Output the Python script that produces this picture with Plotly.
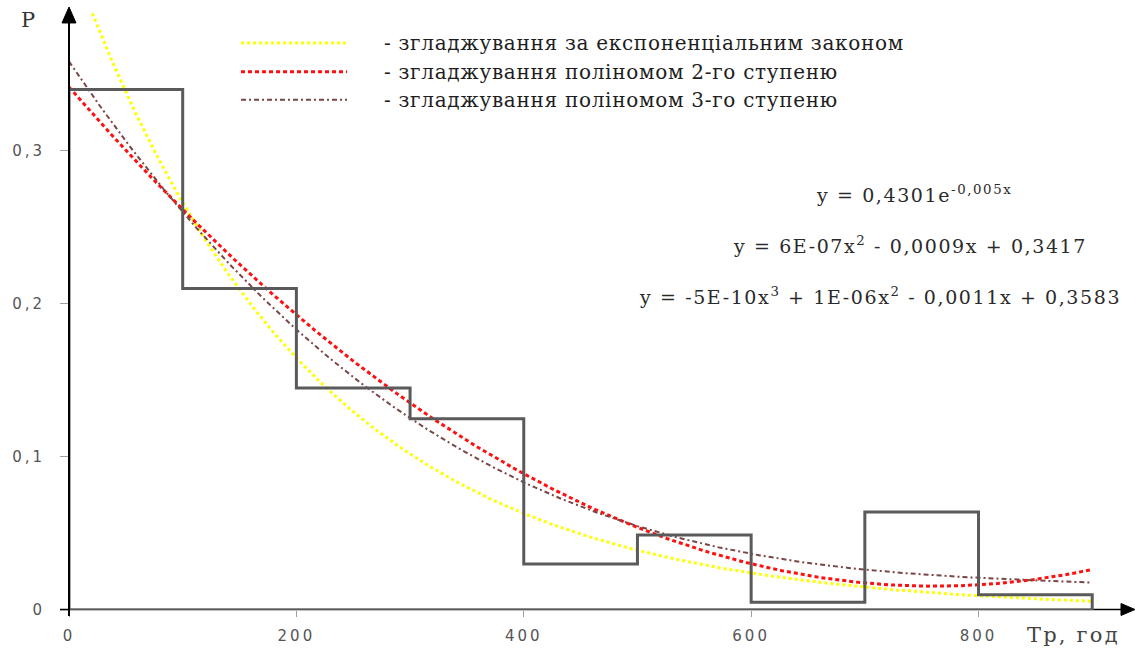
import numpy as np
import plotly.graph_objects as go

# Empirical distribution of time between failures (bin edges, hours) and bin probabilities
bin_edges = [0, 100, 200, 300, 400, 500, 600, 700, 800, 900]
probabilities = [0.34, 0.21, 0.145, 0.125, 0.03, 0.049, 0.005, 0.064, 0.01]

# Trendline coefficients (labels below show them rounded)
exp_coef = [0.4301, -0.0048]                          # a * exp(k x)
poly2_coef = [5.63e-7, -0.000857, 0.3417]             # highest power first
poly3_coef = [-4.6e-10, 1.216e-6, -0.0011, 0.3583]    # highest power first

x_tick_vals = [0, 200, 400, 600, 800]
x_tick_text = ["0", "200", "400", "600", "800"]
y_tick_vals = [0, 0.1, 0.2, 0.3]
y_tick_text = ["0", "0,1", "0,2", "0,3"]

legend_labels = [
    "- згладжування за експоненціальним законом",
    "- згладжування поліномом 2-го ступеню",
    "- згладжування поліномом 3-го ступеню",
]
equation_labels = [
    "y = 0,4301e<sup>-0,005x</sup>",
    "y = 6E-07x<sup>2</sup> - 0,0009x + 0,3417",
    "y = -5E-10x<sup>3</sup> + 1E-06x<sup>2</sup> - 0,0011x + 0,3583",
]

W, H = 1135, 648
M_L, M_R, M_T, M_B = 69, 3, 13, 36
X_MAX, Y_MAX = 935, 0.39


def spaced(text, px):
    """Wrap text in a span with extra letter spacing."""
    return f"<span style='letter-spacing:{px}px'>{text}</span>"


# Closed outline of the histogram
hx, hy = [0], [0]
for i, p in enumerate(probabilities):
    hx += [bin_edges[i], bin_edges[i + 1]]
    hy += [p, p]
hx += [bin_edges[-1], 0]
hy += [0, 0]

xs = np.linspace(0, bin_edges[-1], 400)
y_exp = exp_coef[0] * np.exp(exp_coef[1] * xs)
y_p2 = np.polyval(poly2_coef, xs)
y_p3 = np.polyval(poly3_coef, xs)

styles = [
    dict(color="#FFFF00", width=3, dash="3px,3px"),
    dict(color="#FF1010", width=3, dash="4px,3px"),
    dict(color="#7a4646", width=2, dash="5px,3px,2px,3px"),
]

fig = go.Figure()
fig.add_trace(go.Scatter(x=xs, y=y_exp, mode="lines", line=styles[0], showlegend=False))
fig.add_trace(go.Scatter(x=xs, y=y_p2, mode="lines", line=styles[1], showlegend=False))
fig.add_trace(go.Scatter(x=xs, y=y_p3, mode="lines", line=styles[2], showlegend=False))
fig.add_trace(go.Scatter(x=hx, y=hy, mode="lines",
                         line=dict(color="#5a5a5a", width=3), showlegend=False))

pw = W - M_L - M_R
ph = H - M_T - M_B


def px_x(p):
    return (p - M_L) / pw


def px_y(p):
    return (H - M_B - p) / ph


# Legend: line samples plus captions
leg_y = [43, 72, 100]
for st, lab, yy in zip(styles, legend_labels, leg_y):
    fig.add_shape(type="line", xref="paper", yref="paper",
                  x0=px_x(241), x1=px_x(347), y0=px_y(yy), y1=px_y(yy),
                  line=st)
    fig.add_annotation(text=spaced(lab, 0.7), xref="paper", yref="paper",
                       x=px_x(382), y=px_y(yy), xanchor="left", yanchor="middle",
                       showarrow=False,
                       font=dict(family="DejaVu Serif", size=20, color="#1e1e1e"))

# Trendline equations
eq_pos = [(914, 195), (910, 246), (880, 297)]
for lab, (cx, cy) in zip(equation_labels, eq_pos):
    fig.add_annotation(text=spaced(lab, 1.6), xref="paper", yref="paper",
                       x=px_x(cx), y=px_y(cy), xanchor="center", yanchor="middle",
                       showarrow=False,
                       font=dict(family="DejaVu Serif", size=19, color="#2a2a2a"))

# Axis lines with arrowheads
fig.add_shape(type="line", xref="paper", yref="paper",
              x0=px_x(69), x1=px_x(69), y0=px_y(618), y1=px_y(20),
              line=dict(color="#000000", width=2))
fig.add_shape(type="path", xref="paper", yref="paper", fillcolor="#000000",
              line=dict(color="#000000", width=1),
              path=(f"M {px_x(69)} {px_y(7)} L {px_x(62)} {px_y(23)} "
                    f"L {px_x(76)} {px_y(23)} Z"))
fig.add_shape(type="line", xref="paper", yref="paper", layer="below",
              x0=px_x(60), x1=px_x(1124), y0=px_y(611.5), y1=px_y(611.5),
              line=dict(color="#000000", width=1.3))
fig.add_shape(type="path", xref="paper", yref="paper", fillcolor="#000000",
              line=dict(color="#000000", width=1),
              path=(f"M {px_x(1135)} {px_y(611.5)} L {px_x(1121)} {px_y(605.5)} "
                    f"L {px_x(1121)} {px_y(617.5)} Z"))

# Axis titles
fig.add_annotation(text="P", xref="paper", yref="paper", x=px_x(28), y=px_y(20),
                   xanchor="center", yanchor="middle", showarrow=False,
                   font=dict(family="DejaVu Serif", size=21, color="#333333"))
fig.add_annotation(text=spaced("Тр, год", 2.2), xref="paper", yref="paper",
                   x=px_x(1025), y=px_y(637),
                   xanchor="left", yanchor="middle", showarrow=False,
                   font=dict(family="DejaVu Serif", size=21, color="#444444"))

fig.update_layout(
    width=W, height=H,
    margin=dict(l=M_L, r=M_R, t=M_T, b=M_B, pad=0),
    plot_bgcolor="white", paper_bgcolor="white",
    showlegend=False,
    xaxis=dict(range=[0, X_MAX], showgrid=False, zeroline=False, showline=False,
               tickvals=x_tick_vals, ticktext=[spaced(t, 3) for t in x_tick_text],
               ticks="outside", ticklen=6, tickwidth=1, tickcolor="#a0a0a0",
               ticklabelstandoff=6,
               tickfont=dict(family="DejaVu Sans", size=15, color="#555555")),
    yaxis=dict(range=[0, Y_MAX], showgrid=False, zeroline=False, showline=False,
               tickvals=y_tick_vals, ticktext=[spaced(t, 3) for t in y_tick_text],
               ticks="outside", ticklen=8, tickwidth=1, tickcolor="#a0a0a0",
               ticklabelstandoff=12,
               tickfont=dict(family="DejaVu Sans", size=15, color="#555555")),
)

fig.write_html("out.html")
